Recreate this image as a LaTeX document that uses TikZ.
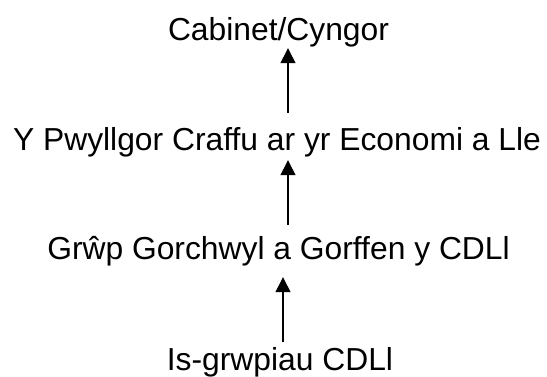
\documentclass[tikz,border=0pt]{standalone}
\usepackage{fontspec}
\setmainfont{Liberation Sans}
\usetikzlibrary{arrows.meta}
\begin{document}
\begin{tikzpicture}[x=1pt,y=1pt,
  lbl/.style={inner sep=0pt, anchor=base, text height=23pt, text depth=7pt, font=\fontsize{31.8pt}{36pt}\selectfont},
  arr/.style={line width=1.4pt, -{Triangle[length=15pt,width=15pt]}}]
\useasboundingbox (0,0) rectangle (547,-376);
\node[lbl] (t1) at (278.5,-40) {Cabinet/Cyngor};
\node[lbl] (t2) at (277,-150) {Y Pwyllgor Craffu ar yr Economi a Lle};
\node[lbl] (t3) at (278.5,-259) {Grŵp Gorchwyl a Gorffen y CDLl};
\node[lbl] (t4) at (280,-370) {Is-grwpiau CDLl};
\draw[arr] ([shift={(11,14)}]t2.north) -- ([shift={(9.5,-1)}]t1.south);
\draw[arr] ([shift={(9.5,11)}]t3.north) -- ([shift={(11,-3)}]t2.south);
\draw[arr] ([shift={(3,5)}]t4.north) -- ([shift={(4.5,-11)}]t3.south);
\end{tikzpicture}
\end{document}
